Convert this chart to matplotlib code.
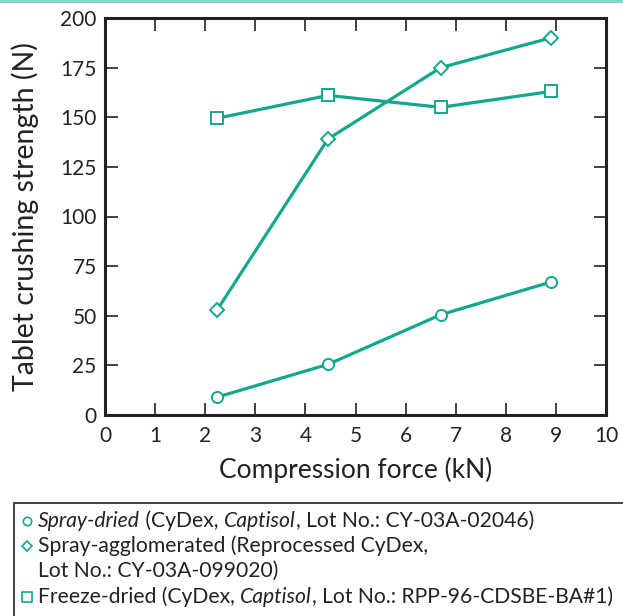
import matplotlib
matplotlib.use("Agg")
import matplotlib.pyplot as plt
from matplotlib.lines import Line2D
from matplotlib.patches import Rectangle

force = [2.24, 4.45, 6.7, 8.9]
spray_dried = [9, 25.5, 50.5, 67]
spray_agglomerated = [53, 139, 175, 190]
freeze_dried = [149.5, 161, 155, 163]

x_ticks = list(range(0, 11))
y_ticks = [0, 25, 50, 75, 100, 125, 150, 175, 200]

teal = "#12a88d"
FONT = "Lato"
plt.rcParams['font.family'] = [FONT, 'DejaVu Sans']

fig = plt.figure(figsize=(6.23, 6.16), dpi=100)
ax = fig.add_axes([105/623, 1-415/616, (606-105)/623, (415-18)/616])

for ys, mk in [(spray_dried, 'o'), (spray_agglomerated, 'D'), (freeze_dried, 's')]:
    ms = 8 if mk == 'o' else (7.5 if mk == 'D' else 8.5)
    ax.plot(force, ys, color=teal, lw=2.3, marker=mk, ms=ms, mfc='white',
            mec=teal, mew=1.4, zorder=3, clip_on=False)

ax.set_xlim(0, 10)
ax.set_ylim(0, 200)
ax.set_xticks(x_ticks)
ax.set_yticks(y_ticks)
ax.tick_params(direction='in', length=9, width=1.3, color='#333333',
               top=True, right=True, labelsize=15, labelcolor='#222222')
ax.tick_params(axis='x', pad=8)
ax.tick_params(axis='y', pad=6)
for s in ax.spines.values():
    s.set_linewidth(2.2)
    s.set_color('#222222')
ax.set_xlabel("Compression force (kN)", fontsize=19, color='#222222', labelpad=8)
ax.set_ylabel("Tablet crushing strength (N)", fontsize=20.5, color='#222222')
ax.yaxis.set_label_coords((39 - 105) / 501, 0.5)

# top decorative line
fig.add_artist(Line2D([0, 1], [0.999, 0.999], transform=fig.transFigure,
                      color='#7fd3c3', lw=2))

# legend box
fig.add_artist(Rectangle((14/623, -0.01), (623-14)/623 + 0.01, (616-503)/616 + 0.01,
                         transform=fig.transFigure, fill=False, ec='#333333', lw=1.3))

lines = [
    ('o', [("Spray-dried", 'italic'), (" (CyDex, ", 'normal'), ("Captisol", 'italic'),
           (", Lot No.: CY-03A-02046)", 'normal')]),
    ('D', [("Spray-agglomerated (Reprocessed CyDex,", 'normal')]),
    (None, [("Lot No.: CY-03A-099020)", 'normal')]),
    ('s', [("Freeze-dried (CyDex, ", 'normal'), ("Captisol", 'italic'),
           (", Lot No.: RPP-96-CDSBE-BA#1)", 'normal')]),
]
ys_px = [521, 546, 571, 597]
fig.canvas.draw()
renderer = fig.canvas.get_renderer()
for (mk, parts), ypx in zip(lines, ys_px):
    yf = 1 - ypx/616
    if mk is not None:
        ms = 6 if mk == 'o' else (5.5 if mk == 'D' else 7)
        fig.add_artist(Line2D([27/623], [yf], transform=fig.transFigure, marker=mk,
                              ms=ms, mfc='white', mec=teal, mew=1.2, ls='none'))
    xpx = 38
    for txt, style in parts:
        t = fig.text(xpx/623, yf, txt, fontsize=15.2, style=style, va='center', ha='left',
                     color='#222222')
        bb = t.get_window_extent(renderer)
        xpx += bb.width

fig.savefig("out.png", dpi=100)
